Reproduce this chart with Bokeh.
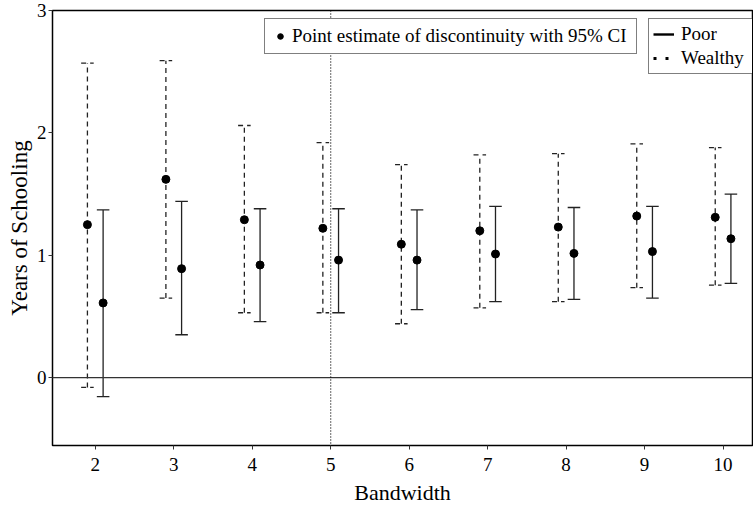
from bokeh.plotting import figure
from bokeh.models import Range1d, Span, Legend, LegendItem, FixedTicker, ColumnDataSource
from bokeh.embed import file_html
from bokeh.resources import INLINE

bandwidth = [2, 3, 4, 5, 6, 7, 8, 9, 10]

wealthy_est = [1.25, 1.62, 1.29, 1.22, 1.09, 1.20, 1.23, 1.32, 1.31]
wealthy_lo = [-0.08, 0.65, 0.53, 0.53, 0.44, 0.57, 0.62, 0.735, 0.755]
wealthy_hi = [2.57, 2.59, 2.06, 1.92, 1.74, 1.82, 1.83, 1.91, 1.88]

poor_est = [0.61, 0.89, 0.92, 0.96, 0.96, 1.01, 1.015, 1.03, 1.135]
poor_lo = [-0.155, 0.35, 0.457, 0.53, 0.555, 0.62, 0.64, 0.65, 0.77]
poor_hi = [1.37, 1.44, 1.38, 1.38, 1.37, 1.40, 1.39, 1.40, 1.50]

y_ticks = [0, 1, 2, 3]
FONT = "'Liberation Serif', serif"

OFF = 0.1
CAP = 0.08

p = figure(width=753, height=508, x_range=Range1d(1.455, 10.375), y_range=Range1d(-0.555, 3.0),
           output_backend="svg", toolbar_location=None,
           min_border_left=52, min_border_right=1, min_border_top=10, min_border_bottom=63)

p.background_fill_color = "white"
p.border_fill_color = "white"
p.outline_line_color = "black"
p.outline_line_width = 1.5
p.xgrid.visible = False
p.ygrid.visible = False

p.xaxis.ticker = FixedTicker(ticks=bandwidth)
p.yaxis.ticker = FixedTicker(ticks=y_ticks)
for ax in (p.xaxis[0], p.yaxis[0]):
    ax.axis_line_color = None
    ax.major_tick_out = 4
    ax.major_tick_in = 0
    ax.minor_tick_out = 0
    ax.minor_tick_in = 0
    ax.major_tick_line_color = "#333333"
    ax.major_label_text_font = FONT
    ax.major_label_text_font_size = "19px"
    ax.major_label_text_color = "black"
    ax.axis_label_text_font = FONT
    ax.axis_label_text_font_style = "normal"
    ax.axis_label_text_color = "black"
p.xaxis.axis_label = "Bandwidth"
p.yaxis.axis_label = "Years of Schooling"
p.xaxis.axis_label_text_font_size = "22px"
p.yaxis.axis_label_text_font_size = "23px"
p.xaxis.major_label_standoff = 8
p.yaxis.major_label_standoff = 2
p.xaxis.axis_label_standoff = 6
p.yaxis.axis_label_standoff = 2

p.add_layout(Span(location=0, dimension="width", line_color="#333333", line_width=1.2))
p.add_layout(Span(location=5, dimension="height", line_color="black", line_width=1.2, line_dash="1 2"))

xw = [b - OFF for b in bandwidth]
xp = [b + OFF for b in bandwidth]

sw = ColumnDataSource(dict(x=xw, lo=wealthy_lo, hi=wealthy_hi, est=wealthy_est,
                           xl=[x - CAP for x in xw], xr=[x + CAP for x in xw]))
sp = ColumnDataSource(dict(x=xp, lo=poor_lo, hi=poor_hi, est=poor_est,
                           xl=[x - CAP for x in xp], xr=[x + CAP for x in xp]))

dash = "5 4"
p.segment(x0="x", y0="lo", x1="x", y1="hi", source=sw, line_color="#222222", line_width=1.3, line_dash=dash)
p.segment(x0="xl", y0="hi", x1="xr", y1="hi", source=sw, line_color="#222222", line_width=1.3, line_dash=dash)
p.segment(x0="xl", y0="lo", x1="xr", y1="lo", source=sw, line_color="#222222", line_width=1.3, line_dash=dash)

p.segment(x0="x", y0="lo", x1="x", y1="hi", source=sp, line_color="#222222", line_width=1.3)
p.segment(x0="xl", y0="hi", x1="xr", y1="hi", source=sp, line_color="#222222", line_width=1.3)
p.segment(x0="xl", y0="lo", x1="xr", y1="lo", source=sp, line_color="#222222", line_width=1.3)

pts_w = p.scatter(x="x", y="est", source=sw, size=8, marker="circle", fill_color="black", line_color="black")
p.scatter(x="x", y="est", source=sp, size=8, marker="circle", fill_color="black", line_color="black")

nan = float("nan")
leg_poor = p.line(x=[nan], y=[nan], line_color="black", line_width=2.4)
leg_wealthy = p.line(x=[nan], y=[nan], line_color="black", line_width=2.8, line_dash="3 9")


def style(lg):
    lg.border_line_color = "black"
    lg.border_line_width = 1
    lg.background_fill_color = "white"
    lg.background_fill_alpha = 1
    lg.label_text_font = FONT
    lg.label_text_font_size = "19px"
    lg.label_text_color = "black"
    lg.margin = 0
    lg.padding = 4


lg1 = Legend(items=[LegendItem(label="Point estimate of discontinuity with 95% CI", renderers=[pts_w])],
             location=(212, 391), orientation="vertical")
style(lg1)
lg1.glyph_width = 22
lg1.glyph_height = 14
lg1.label_standoff = 1
lg1.label_height = 26
lg1.label_width = 340
lg1.spacing = 0

lg2 = Legend(items=[LegendItem(label="Poor", renderers=[leg_poor]),
                    LegendItem(label="Wealthy", renderers=[leg_wealthy])],
             location=(596, 371), orientation="vertical")
style(lg2)
lg2.glyph_width = 21
lg2.glyph_height = 14
lg2.label_standoff = 7
lg2.label_height = 22
lg2.label_width = 67
lg2.spacing = 2

p.add_layout(lg1, "center")
p.add_layout(lg2, "center")

open("out.html", "w").write(file_html(p, INLINE))
